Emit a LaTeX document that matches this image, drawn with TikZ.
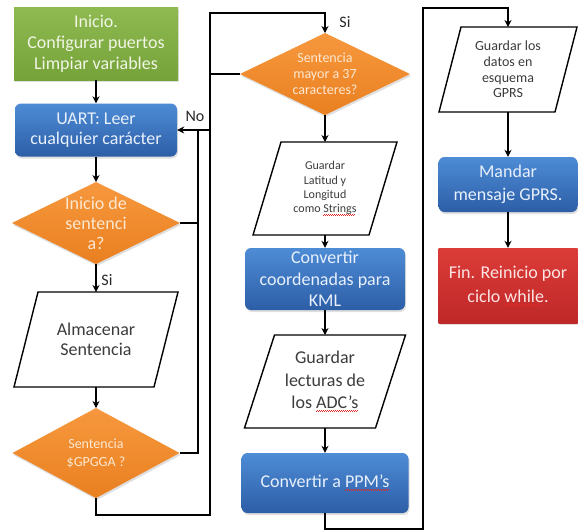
\documentclass[tikz,border=0pt]{standalone}
\usepackage{fontspec}
\setmainfont{Carlito}
\usetikzlibrary{shapes.geometric,arrows.meta,shadows,calc}
\definecolor{grtop}{RGB}{143,186,82}
\definecolor{grbot}{RGB}{118,162,58}
\definecolor{bltop}{RGB}{78,140,214}
\definecolor{blbot}{RGB}{44,94,166}
\definecolor{ortop}{RGB}{247,152,62}
\definecolor{orbot}{RGB}{233,128,32}
\definecolor{rdtop}{RGB}{220,60,56}
\definecolor{rdbot}{RGB}{190,40,40}
\definecolor{grtext}{RGB}{240,245,228}
\definecolor{bltext}{RGB}{232,240,252}
\definecolor{ortext}{RGB}{253,232,210}
\definecolor{rdtext}{RGB}{252,228,228}
\definecolor{ptext}{RGB}{60,60,60}
\definecolor{lbltext}{RGB}{40,40,40}
\definecolor{spell}{RGB}{220,40,40}
\newsavebox\wavbox
\newcommand\wav[1]{\sbox\wavbox{#1}\rlap{\textcolor{spell}{\hbox to \wd\wavbox{\leaders\hbox{\rule[-2.8pt]{1pt}{0.6pt}\rule[-2.1pt]{1pt}{0.6pt}}\hfill}}}#1}
\newcommand\fsz[2]{\fontsize{#1}{#2}\selectfont}
\tikzset{
  conn/.style={line width=1.8pt, draw=black},
  arr/.style={conn, -{Stealth[length=7pt,width=7pt]}},
  shd/.style={drop shadow={opacity=0.25, shadow xshift=1pt, shadow yshift=-2pt}},
  gbox/.style={rectangle, inner sep=0, top color=grtop, bottom color=grbot, text=grtext, align=center, shd},
  bbox/.style={rectangle, rounded corners=6pt, inner sep=0, top color=bltop, bottom color=blbot, text=bltext, align=center, shd},
  rbox/.style={rectangle, inner sep=0, top color=rdtop, bottom color=rdbot, text=rdtext, align=center, shd},
  dia/.style={diamond, inner sep=0, outer sep=0, top color=ortop, bottom color=orbot, shd},
  diatext/.style={text=ortext, align=center, inner sep=0},
  para/.style={rectangle, inner sep=0, outer sep=0, text=ptext, align=center},
  paraline/.style={draw=black, line width=1.4pt, line join=miter},
  lbl/.style={font=\fsz{16}{18}, text=lbltext, inner sep=0}
}
\newcommand\paral[2]{\draw[paraline] ([xshift=-#2pt]#1.south west) -- ([xshift=-#2pt]#1.south east) -- ([xshift=#2pt]#1.north east) -- ([xshift=#2pt]#1.north west) -- cycle;}
\begin{document}
\begin{tikzpicture}[x=1pt,y=-1pt]
\fill[white] (0,0) rectangle (578,531);
\useasboundingbox (0,0) rectangle (578,531);

% left column
\node[gbox, minimum width=164, minimum height=73, font=\fsz{18}{21}] (g) at (96,43.5) {Inicio.\\Configurar puertos\\Limpiar variables};
\node[bbox, minimum width=162, minimum height=53, font=\fsz{18}{20}] (u) at (96,130) {UART: Leer\\cualquier carácter};
\node[dia, minimum width=168, minimum height=82, label={[diatext, font=\fsz{18}{20}]center:{Inicio de\\sentenci\\a?}}] (d1) at (96,223) {};
\node[para, minimum width=140, minimum height=95, font=\fsz{18}{20}] (p1) at (96,339.5) {Almacenar\\Sentencia};
\paral{p1}{12}
\node[dia, minimum width=167, minimum height=90, label={[diatext, font=\fsz{14}{18}]center:{Sentencia\\\$GPGGA ?}}] (d2) at (96,453) {};

% middle column
\node[dia, minimum width=170, minimum height=82, label={[diatext, font=\fsz{14}{16}]center:{Sentencia\\mayor a 37\\caracteres?}}] (d3) at (325,74) {};
\node[para, minimum width=116, minimum height=93, font=\fsz{12}{14.3}] (p2) at (325,188.5) {Guardar\\Latitud y\\Longitud\\como \wav{Strings}};
\paral{p2}{14}
\node[bbox, minimum width=160, minimum height=62, font=\fsz{18}{21.5}] (b2) at (325,279) {Convertir\\coordenadas para\\KML};
\node[para, minimum width=131, minimum height=93, font=\fsz{18}{22.5}] (p3) at (325,381.5) {Guardar\\lecturas de\\los \wav{ADC’s}};
\paral{p3}{15}
\node[bbox, minimum width=167, minimum height=60, font=\fsz{18}{21}] (b3) at (325,483) {Convertir a \wav{PPM’s}};

% right column
\node[para, minimum width=116, minimum height=85, font=\fsz{14}{15.7}] (p4) at (508,69.5) {Guardar los\\datos en\\esquema\\GPRS};
\paral{p4}{11}
\node[bbox, minimum width=139, minimum height=55, font=\fsz{18}{23}] (b4) at (508,184.5) {Mandar\\mensaje GPRS.};
\node[rbox, minimum width=139, minimum height=75, font=\fsz{18}{24}] (r) at (508,285.5) {Fin. Reinicio por\\ciclo \wav{while}.};

% junction coordinates
\coordinate (jn) at (198,130);
\coordinate (jr) at (210,130);
\coordinate (c2) at (210,515);
\coordinate (c3) at (210,13);
\coordinate (c6) at (423,529);
\coordinate (c7) at (423,8);

% connectors
\draw[arr] (g.south) -- (u.north);
\draw[arr] (u.south) -- (d1.north);
\draw[arr] (d1.south) -- (p1.north);
\draw[arr] (p1.south) -- (d2.north);
\draw[conn] (d1.east) -| (jn);
\draw[conn] (d2.east) -| (jn);
\draw[arr] (d3.west) -| (jr) -- (u.east);
\draw[arr] (d2.south) |- (c2) -- (c3) -| (d3.north);
\draw[arr] (d3.south) -- (p2.north);
\draw[arr] (p2.south) -- (b2.north);
\draw[arr] (b2.south) -- (p3.north);
\draw[arr] (p3.south) -- (b3.north);
\draw[arr] (b3.south) |- (c6) -- (c7) -| (p4.north);
\draw[arr] (p4.south) -- (b4.north);
\draw[arr] (b4.south) -- (r.north);

% labels
\node[lbl] (lno) at (195,116) {No};
\node[lbl] (lsi1) at (107,280) {Si};
\node[lbl] (lsi2) at (345,22) {Si};
\end{tikzpicture}
\end{document}
